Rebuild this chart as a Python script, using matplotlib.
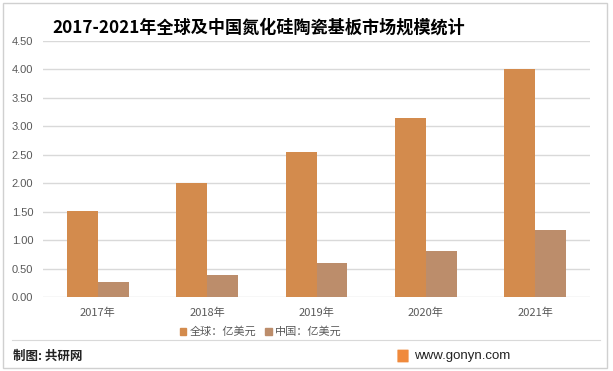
import matplotlib
matplotlib.use("Agg")
import matplotlib.pyplot as plt
from matplotlib.patches import Rectangle, FancyBboxPatch
from matplotlib.lines import Line2D
import numpy as np

plt.rcParams['font.family'] = ['Noto Sans CJK SC', 'DejaVu Sans']

years = ["2017年", "2018年", "2019年", "2020年", "2021年"]
global_vals = [1.52, 2.00, 2.55, 3.15, 4.00]
china_vals = [0.27, 0.38, 0.60, 0.80, 1.18]
series_names = ["全球：亿美元", "中国：亿美元"]
yticks = [0.0, 0.5, 1.0, 1.5, 2.0, 2.5, 3.0, 3.5, 4.0, 4.5]

c_global = "#D38B4D"
c_china = "#BC8D6B"

fig = plt.figure(figsize=(6.13, 3.71), dpi=100)
ax = fig.add_axes([43/613, 1-297/371, (590-43)/613, (297-41)/371])

x = np.arange(len(years))
w = 0.283
ax.bar(x - w/2, global_vals, w, color=c_global, zorder=3)
ax.bar(x + w/2, china_vals, w, color=c_china, zorder=3)

ax.set_xlim(-0.5, 4.5)
ax.set_ylim(0, 4.5)
ax.set_yticks(yticks)
ax.set_yticklabels([f"{v:.2f}" for v in yticks])
ax.set_xticks(x)
ax.set_xticklabels(years)
ax.grid(axis='y', color='#D9D9D9', linewidth=1, zorder=0)
for s in ax.spines.values():
    s.set_visible(False)
ax.tick_params(axis='both', length=0, labelsize=8, labelcolor='#595959')
ax.tick_params(axis='y', pad=7)
ax.tick_params(axis='x', pad=8)
for lbl in ax.get_yticklabels():
    lbl.set_fontfamily(['Liberation Sans', 'DejaVu Sans'])

fig.text(259/613, 1-28/371, "2017-2021年全球及中国氮化硅陶瓷基板市场规模统计",
         ha='center', va='center', fontsize=12.3, fontweight='bold', color='#000000')

handles = [Rectangle((0, 0), 1, 1, color=c_global), Rectangle((0, 0), 1, 1, color=c_china)]
fig.legend(handles, series_names, loc='center', bbox_to_anchor=(261/613, 1-332/371),
           ncol=2, frameon=False, fontsize=8, handlelength=0.6, handleheight=0.6,
           handletextpad=0.3, columnspacing=0.8, labelcolor='#595959')

# separator line
fig.add_artist(Line2D([12/613, 600/613], [1-340/371, 1-340/371], color='#D9D9D9', linewidth=0.8))
# outer border
fig.add_artist(Rectangle((3/613, 3/371), 604/613, 365/371, fill=False, edgecolor='#D0D0D0', linewidth=1))

fig.text(13/613, 1-356/371, "制图: 共研网", ha='left', va='center', fontsize=9, fontweight='bold', color='#222222')
fig.add_artist(FancyBboxPatch((398/613, 1-362/371), 10/613, 12/371,
                              boxstyle="round,pad=0.001", facecolor='#F08A3C', edgecolor='none'))
fig.text(414/613, 1-356/371, "www.gonyn.com", ha='left', va='center', fontsize=9.5, color='#222222',
         fontfamily=['Liberation Sans', 'DejaVu Sans'])

fig.savefig("out.png", dpi=100)
